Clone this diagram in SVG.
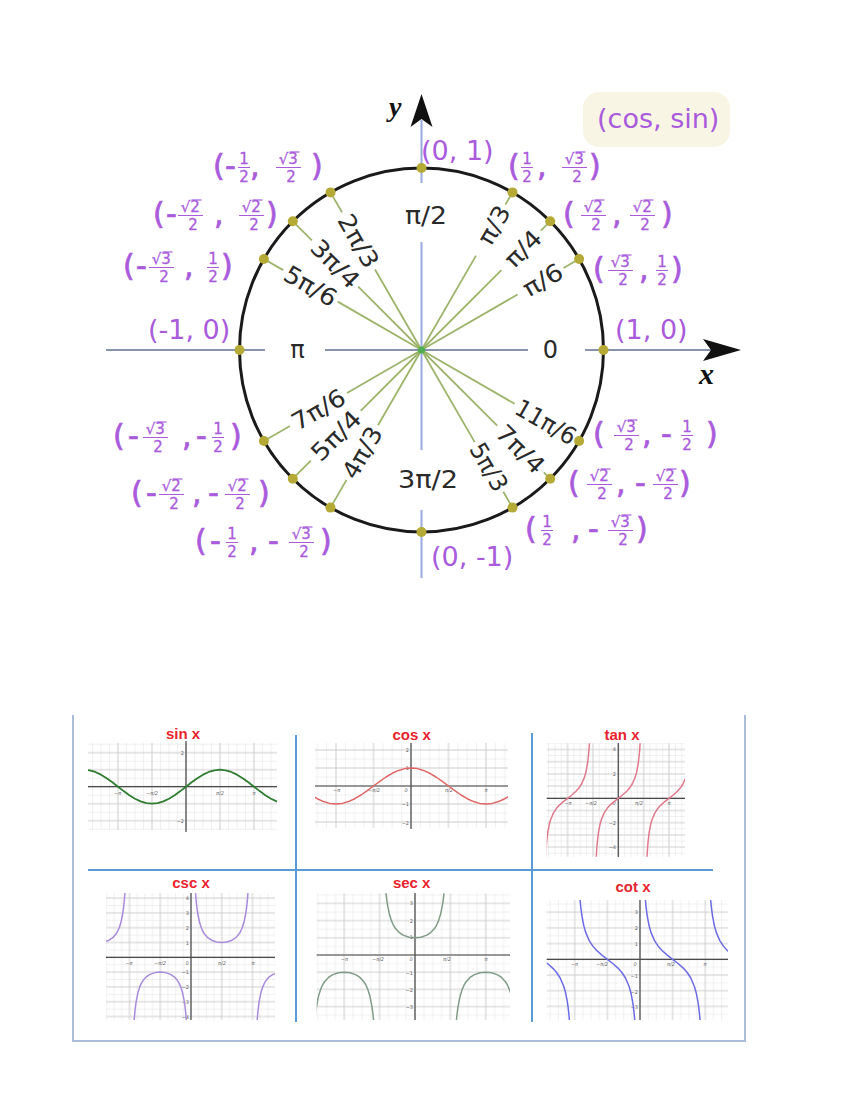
<svg xmlns="http://www.w3.org/2000/svg" width="850" height="1100" viewBox="0 0 850 1100">
<style>
text{font-family:"DejaVu Sans","Liberation Sans",sans-serif}
.axh{stroke:#8793a8;stroke-width:2;fill:none}
.axv{stroke:#97abdf;stroke-width:2;fill:none}
.ray{stroke:#9db46b;stroke-width:1.8;fill:none}
.dot{fill:#b5aa36}
.ang{font-size:24px;fill:#2a2a2a;text-anchor:middle}
.p{font-size:30px;fill:#a95bdc;stroke:#a95bdc;stroke-width:.7}
.co{font-size:27px;fill:#a95bdc}
.f{font-size:15px;fill:#a95bdc;text-anchor:middle;stroke:#a95bdc;stroke-width:.3}
.bar{stroke:#a95bdc;stroke-width:1}
.ov{stroke:#a95bdc;stroke-width:1.2}
.lab{font-family:"Liberation Serif",serif;font-style:italic;font-weight:bold;fill:#111}
.ttl{font-family:"Liberation Sans",sans-serif;font-weight:bold;font-size:15px;fill:#e8232d;text-anchor:middle}
.tk{font-size:5px;fill:#666;text-anchor:middle;font-style:italic}
.tky{font-size:5px;fill:#666;text-anchor:end}
.ga{stroke:#4a4a4a;stroke-width:1.2}
.frame{stroke:#a9bdd8;stroke-width:2;fill:none}
.dv{stroke:#5b9bd5;stroke-width:2}
.cv{fill:none;stroke-linejoin:round}
.mj{stroke:#cdcdcd;stroke-width:1;fill:none}
.mn{stroke:#e6e6e6;stroke-width:.6;fill:none}
</style>
<defs>
<path id="tanb" class="cv" vector-effect="non-scaling-stroke" d="M-86,-14.3L-84,-9.514L-82,-7.115L-80,-5.671L-78,-4.705L-76,-4.011L-74,-3.487L-72,-3.078L-70,-2.747L-65,-2.145L-60,-1.732L-50,-1.192L-40,-.8391L-30,-.5774L-15,-.2679L0,0L15,.2679L30,.5774L40,.8391L50,1.192L60,1.732L65,2.145L70,2.747L72,3.078L74,3.487L76,4.011L78,4.705L80,5.671L82,7.115L84,9.514L86,14.3"/>
<path id="ub" class="cv" vector-effect="non-scaling-stroke" d="M-86,14.34L-84,9.567L-82,7.185L-80,5.759L-78,4.81L-76,4.134L-74,3.628L-72,3.236L-70,2.924L-65,2.366L-60,2L-55,1.743L-50,1.556L-40,1.305L-30,1.155L-15,1.035L0,1L15,1.035L30,1.155L40,1.305L50,1.556L55,1.743L60,2L65,2.366L70,2.924L72,3.236L74,3.628L76,4.134L78,4.81L80,5.759L82,7.185L84,9.567L86,14.34"/>
<pattern id="gsin" patternUnits="userSpaceOnUse" x="186" y="786.7" width="34" height="17"><path class="mn" d="M8.5,0V17M17,0V17M25.5,0V17M0,8.5H34"/><path class="mj" d="M0,0V17M34,0V17M0,0H34M0,17H34"/></pattern>
<pattern id="gcos" patternUnits="userSpaceOnUse" x="411" y="786" width="37.5" height="18"><path class="mn" d="M9.375,0V18M18.75,0V18M28.125,0V18M0,9H37.5"/><path class="mj" d="M0,0V18M37.5,0V18M0,0H37.5M0,18H37.5"/></pattern>
<pattern id="gtan" patternUnits="userSpaceOnUse" x="618.3" y="798.3" width="25.35" height="12.2"><path class="mn" d="M6.34,0V12.2M12.68,0V12.2M19.01,0V12.2M0,6.1H25.35"/><path class="mj" d="M0,0V12.2M25.35,0V12.2M0,0H25.35M0,12.2H25.35"/></pattern>
<pattern id="gcsc" patternUnits="userSpaceOnUse" x="191" y="957.3" width="30.75" height="14.8"><path class="mn" d="M7.69,0V14.8M15.38,0V14.8M23.06,0V14.8M0,7.4H30.75"/><path class="mj" d="M0,0V14.8M30.75,0V14.8M0,0H30.75M0,14.8H30.75"/></pattern>
<pattern id="gsec" patternUnits="userSpaceOnUse" x="415" y="955" width="35.4" height="17.2"><path class="mn" d="M8.85,0V17.2M17.7,0V17.2M26.55,0V17.2M0,8.6H35.4"/><path class="mj" d="M0,0V17.2M35.4,0V17.2M0,0H35.4M0,17.2H35.4"/></pattern>
<pattern id="gcot" patternUnits="userSpaceOnUse" x="640" y="959.3" width="32.65" height="15.7"><path class="mn" d="M8.16,0V15.7M16.33,0V15.7M24.49,0V15.7M0,7.85H32.65"/><path class="mj" d="M0,0V15.7M32.65,0V15.7M0,0H32.65M0,15.7H32.65"/></pattern>
<clipPath id="csin"><rect x="88" y="743" width="189" height="87"/></clipPath>
<clipPath id="ccos"><rect x="315" y="743" width="193" height="85"/></clipPath>
<clipPath id="ctan"><rect x="546.7" y="743.3" width="138.3" height="113.4"/></clipPath>
<clipPath id="ccsc"><rect x="106" y="893" width="169" height="127"/></clipPath>
<clipPath id="csec"><rect x="316.7" y="893.3" width="193.3" height="126.7"/></clipPath>
<clipPath id="ccot"><rect x="546.7" y="900" width="181.3" height="120"/></clipPath>
</defs>
<rect width="850" height="1100" fill="#fff"/>

<g id="unit-circle">
<g id="cos-sin-key"><rect x="583" y="92" width="147" height="55" rx="16" fill="#f8f5e4"/><text class="co" x="597" y="128" font-size="26">(cos, sin)</text></g>
<g id="axes">
<path class="axh" d="M106,350H265M325,350H528M585,350H712"/>
<path class="axv" d="M421.5,120V183M421.5,242V450M421.5,510V578"/>
<path d="M421.5,94L432.5,127L421.5,119L410.5,127Z" fill="#111"/>
<path d="M741,350L703,339L711,350L703,361Z" fill="#111"/>
<text class="lab" x="389" y="116" font-size="28">y</text>
<text class="lab" x="699" y="384" font-size="30">x</text>
<text class="ang" x="426" y="224" textLength="42" lengthAdjust="spacingAndGlyphs">π/2</text>
<text class="ang" x="428" y="488" textLength="60" lengthAdjust="spacingAndGlyphs">3π/2</text>
<text class="ang" x="297.5" y="358">π</text>
<text class="ang" x="550.5" y="358">0</text>
</g>
<circle id="circle" cx="421.5" cy="350" r="182" fill="none" stroke="#1a1a1a" stroke-width="3"/>
<g id="connectors">
<path class="ray" d="M421.5,350L375,269.5M342,212.3L330.5,192.4"/>
<path class="ray" d="M421.5,350L358.2,286.7M311.9,240.4L292.8,221.3"/>
<path class="ray" d="M421.5,350L337.7,301.6M283.2,270.1L263.9,259"/>
<path class="ray" d="M421.5,350L476,255.6M505.5,204.5L512.5,192.4"/>
<path class="ray" d="M421.5,350L501.4,270.1M540.8,230.7L550.2,221.3"/>
<path class="ray" d="M421.5,350L517.6,294.5M563.5,268L579.1,259"/>
<path class="ray" d="M421.5,350L347,393M289.9,426L263.9,441"/>
<path class="ray" d="M421.5,350L360.7,410.8M310.8,460.7L292.8,478.7"/>
<path class="ray" d="M421.5,350L378,425.3M346.5,479.9L330.5,507.6"/>
<path class="ray" d="M421.5,350L514.6,403.8"/>
<path class="ray" d="M421.5,350L497.2,425.7M543.8,472.3L550.2,478.7"/>
<path class="ray" d="M421.5,350L474.7,442.1M503.3,491.7L512.5,507.6"/>
</g>
<circle cx="421.5" cy="350" r="3.5" fill="#4fae4f"/>
<g id="points">
<circle class="dot" cx="603.5" cy="350" r="5"/><circle class="dot" cx="579.1" cy="259" r="5"/><circle class="dot" cx="550.2" cy="221.3" r="5"/><circle class="dot" cx="512.5" cy="192.4" r="5"/>
<circle class="dot" cx="421.5" cy="168" r="5"/><circle class="dot" cx="330.5" cy="192.4" r="5"/><circle class="dot" cx="292.8" cy="221.3" r="5"/><circle class="dot" cx="263.9" cy="259" r="5"/>
<circle class="dot" cx="239.5" cy="350" r="5"/><circle class="dot" cx="263.9" cy="441" r="5"/><circle class="dot" cx="292.8" cy="478.7" r="5"/><circle class="dot" cx="330.5" cy="507.6" r="5"/>
<circle class="dot" cx="421.5" cy="532" r="5"/><circle class="dot" cx="512.5" cy="507.6" r="5"/><circle class="dot" cx="550.2" cy="478.7" r="5"/><circle class="dot" cx="579.1" cy="441" r="5"/>
</g>
<g id="angle-labels">
<text class="ang" transform="translate(358.5,240.9) rotate(60)" y="8.5" textLength="58" lengthAdjust="spacingAndGlyphs">2π/3</text>
<text class="ang" transform="translate(335.2,263.7) rotate(45)" y="8.5" textLength="58" lengthAdjust="spacingAndGlyphs">3π/4</text>
<text class="ang" transform="translate(310.6,286) rotate(30)" y="8.5" textLength="57" lengthAdjust="spacingAndGlyphs">5π/6</text>
<text class="ang" transform="translate(493.8,224.9) rotate(-60)" y="8.5" textLength="41" lengthAdjust="spacingAndGlyphs">π/3</text>
<text class="ang" transform="translate(523,248.5) rotate(-45)" y="8.5" textLength="42" lengthAdjust="spacingAndGlyphs">π/4</text>
<text class="ang" transform="translate(542.7,280) rotate(-30)" y="8.5" textLength="42" lengthAdjust="spacingAndGlyphs">π/6</text>
<text class="ang" transform="translate(318.4,409.5) rotate(-30)" y="8.5" textLength="58" lengthAdjust="spacingAndGlyphs">7π/6</text>
<text class="ang" transform="translate(335.9,435.6) rotate(-45)" y="8.5" textLength="60" lengthAdjust="spacingAndGlyphs">5π/4</text>
<text class="ang" transform="translate(362.2,452.6) rotate(-60)" y="8.5" textLength="56" lengthAdjust="spacingAndGlyphs">4π/3</text>
<text class="ang" transform="translate(545.9,421.9) rotate(30)" y="8.5" textLength="66" lengthAdjust="spacingAndGlyphs">11π/6</text>
<text class="ang" transform="translate(520.5,449) rotate(45)" y="8.5" textLength="58" lengthAdjust="spacingAndGlyphs">7π/4</text>
<text class="ang" transform="translate(489,466.9) rotate(60)" y="8.5" textLength="52" lengthAdjust="spacingAndGlyphs">5π/3</text>
</g>

<g id="pt90"><text class="co" x="421" y="160">(0, 1)</text></g>
<g id="pt0"><text class="co" x="615" y="339">(1, 0)</text></g>
<g id="pt180"><text class="co" x="148" y="339">(-1, 0)</text></g>
<g id="pt270"><text class="co" x="431" y="566">(0, -1)</text></g>

<g id="pt120">
<text class="p" x="213" y="176">(</text><text class="p" x="225" y="176">-</text>
<text class="f"><tspan x="244" y="164">1</tspan><tspan x="244" y="182">2</tspan></text><line class="bar" x1="238" x2="250" y1="167.5" y2="167.5"/>
<text class="p" x="250" y="176">,</text>
<text class="f"><tspan x="288.3" y="164">√3</tspan><tspan x="291" y="182">2</tspan></text><line class="ov" x1="289.5" x2="299.5" y1="152" y2="152"/><line class="bar" x1="276" x2="301" y1="167.5" y2="167.5"/>
<text class="p" x="311" y="176">)</text>
</g>
<g id="pt135">
<text class="p" x="153" y="224">(</text><text class="p" x="166" y="224">-</text>
<text class="f"><tspan x="190.3" y="212">√2</tspan><tspan x="193" y="230">2</tspan></text><line class="ov" x1="191.5" x2="201.5" y1="200" y2="200"/><line class="bar" x1="178" x2="203" y1="215.5" y2="215.5"/>
<text class="p" x="214" y="224">,</text>
<text class="f"><tspan x="251.3" y="212">√2</tspan><tspan x="254" y="230">2</tspan></text><line class="ov" x1="252.5" x2="262.5" y1="200" y2="200"/><line class="bar" x1="239" x2="264" y1="215.5" y2="215.5"/>
<text class="p" x="266" y="224">)</text>
</g>
<g id="pt150">
<text class="p" x="123" y="276">(</text><text class="p" x="136" y="276">-</text>
<text class="f"><tspan x="161.3" y="264">√3</tspan><tspan x="164" y="282">2</tspan></text><line class="ov" x1="162.5" x2="172.5" y1="252" y2="252"/><line class="bar" x1="149" x2="174" y1="267.5" y2="267.5"/>
<text class="p" x="184" y="276">,</text>
<text class="f"><tspan x="213" y="264">1</tspan><tspan x="213" y="282">2</tspan></text><line class="bar" x1="207" x2="219" y1="267.5" y2="267.5"/>
<text class="p" x="221" y="276">)</text>
</g>
<g id="pt60">
<text class="p" x="508" y="176">(</text>
<text class="f"><tspan x="527" y="164">1</tspan><tspan x="527" y="182">2</tspan></text><line class="bar" x1="521" x2="533" y1="167.5" y2="167.5"/>
<text class="p" x="537" y="176">,</text>
<text class="f"><tspan x="574.3" y="164">√3</tspan><tspan x="577" y="182">2</tspan></text><line class="ov" x1="575.5" x2="585.5" y1="152" y2="152"/><line class="bar" x1="562" x2="587" y1="167.5" y2="167.5"/>
<text class="p" x="589" y="176">)</text>
</g>
<g id="pt45">
<text class="p" x="563" y="224">(</text>
<text class="f"><tspan x="593.3" y="212">√2</tspan><tspan x="596" y="230">2</tspan></text><line class="ov" x1="594.5" x2="604.5" y1="200" y2="200"/><line class="bar" x1="581" x2="606" y1="215.5" y2="215.5"/>
<text class="p" x="612" y="224">,</text>
<text class="f"><tspan x="642.3" y="212">√2</tspan><tspan x="645" y="230">2</tspan></text><line class="ov" x1="643.5" x2="653.5" y1="200" y2="200"/><line class="bar" x1="630" x2="655" y1="215.5" y2="215.5"/>
<text class="p" x="661" y="224">)</text>
</g>
<g id="pt30">
<text class="p" x="593" y="279">(</text>
<text class="f"><tspan x="620.3" y="267">√3</tspan><tspan x="623" y="285">2</tspan></text><line class="ov" x1="621.5" x2="631.5" y1="255" y2="255"/><line class="bar" x1="608" x2="633" y1="270.5" y2="270.5"/>
<text class="p" x="639" y="279">,</text>
<text class="f"><tspan x="662" y="267">1</tspan><tspan x="662" y="285">2</tspan></text><line class="bar" x1="656" x2="668" y1="270.5" y2="270.5"/>
<text class="p" x="671" y="279">)</text>
</g>
<g id="pt210">
<text class="p" x="113" y="446">(</text><text class="p" x="128" y="446">-</text>
<text class="f"><tspan x="155.3" y="434">√3</tspan><tspan x="158" y="452">2</tspan></text><line class="ov" x1="156.5" x2="166.5" y1="422" y2="422"/><line class="bar" x1="143" x2="168" y1="437.5" y2="437.5"/>
<text class="p" x="182" y="446">,</text><text class="p" x="196" y="446">-</text>
<text class="f"><tspan x="218" y="434">1</tspan><tspan x="218" y="452">2</tspan></text><line class="bar" x1="212" x2="224" y1="437.5" y2="437.5"/>
<text class="p" x="230" y="446">)</text>
</g>
<g id="pt225">
<text class="p" x="131" y="503">(</text><text class="p" x="146" y="503">-</text>
<text class="f"><tspan x="171.3" y="491">√2</tspan><tspan x="174" y="509">2</tspan></text><line class="ov" x1="172.5" x2="182.5" y1="479" y2="479"/><line class="bar" x1="159" x2="184" y1="494.5" y2="494.5"/>
<text class="p" x="192" y="503">,</text><text class="p" x="208" y="503">-</text>
<text class="f"><tspan x="237.3" y="491">√2</tspan><tspan x="240" y="509">2</tspan></text><line class="ov" x1="238.5" x2="248.5" y1="479" y2="479"/><line class="bar" x1="225" x2="250" y1="494.5" y2="494.5"/>
<text class="p" x="258" y="503">)</text>
</g>
<g id="pt240">
<text class="p" x="195" y="551">(</text><text class="p" x="210" y="551">-</text>
<text class="f"><tspan x="232" y="539">1</tspan><tspan x="232" y="557">2</tspan></text><line class="bar" x1="226" x2="238" y1="542.5" y2="542.5"/>
<text class="p" x="249" y="551">,</text><text class="p" x="268" y="551">-</text>
<text class="f"><tspan x="301.3" y="539">√3</tspan><tspan x="304" y="557">2</tspan></text><line class="ov" x1="302.5" x2="312.5" y1="527" y2="527"/><line class="bar" x1="289" x2="314" y1="542.5" y2="542.5"/>
<text class="p" x="320" y="551">)</text>
</g>
<g id="pt330">
<text class="p" x="593" y="444">(</text>
<text class="f"><tspan x="626.3" y="432">√3</tspan><tspan x="629" y="450">2</tspan></text><line class="ov" x1="627.5" x2="637.5" y1="420" y2="420"/><line class="bar" x1="614" x2="639" y1="435.5" y2="435.5"/>
<text class="p" x="642" y="444">,</text><text class="p" x="661" y="444">-</text>
<text class="f"><tspan x="687" y="432">1</tspan><tspan x="687" y="450">2</tspan></text><line class="bar" x1="681" x2="693" y1="435.5" y2="435.5"/>
<text class="p" x="706" y="444">)</text>
</g>
<g id="pt315">
<text class="p" x="568" y="493">(</text>
<text class="f"><tspan x="599.3" y="481">√2</tspan><tspan x="602" y="499">2</tspan></text><line class="ov" x1="600.5" x2="610.5" y1="469" y2="469"/><line class="bar" x1="587" x2="612" y1="484.5" y2="484.5"/>
<text class="p" x="616" y="493">,</text><text class="p" x="635" y="493">-</text>
<text class="f"><tspan x="665.3" y="481">√2</tspan><tspan x="668" y="499">2</tspan></text><line class="ov" x1="666.5" x2="676.5" y1="469" y2="469"/><line class="bar" x1="653" x2="678" y1="484.5" y2="484.5"/>
<text class="p" x="679" y="493">)</text>
</g>
<g id="pt300">
<text class="p" x="525" y="539">(</text>
<text class="f"><tspan x="547" y="527">1</tspan><tspan x="547" y="545">2</tspan></text><line class="bar" x1="541" x2="553" y1="530.5" y2="530.5"/>
<text class="p" x="571" y="539">,</text><text class="p" x="588" y="539">-</text>
<text class="f"><tspan x="620.3" y="527">√3</tspan><tspan x="623" y="545">2</tspan></text><line class="ov" x1="621.5" x2="631.5" y1="515" y2="515"/><line class="bar" x1="608" x2="633" y1="530.5" y2="530.5"/>
<text class="p" x="636" y="539">)</text>
</g>
</g>

<g id="graphs">
<g id="frame">
<path class="frame" d="M73,715V1041H745V715"/>
<path class="dv" d="M296,735V1022M532,733V1022M88,870H713"/>
</g>

<g id="panel-sin">
<text class="ttl" x="183" y="739">sin x</text>
<rect x="88" y="743" width="189" height="87" fill="url(#gsin)"/>
<path class="ga" d="M88,786.7H277M186,741V832"/>
<text class="tk" x="117.7" y="795">−π</text><text class="tk" x="152" y="795">−π/2</text><text class="tk" x="220" y="795">π/2</text><text class="tk" x="254" y="795">π</text>
<text class="tky" x="184" y="755">2</text><text class="tky" x="184" y="823">−2</text>
<g clip-path="url(#csin)"><path class="cv" stroke="#2e7d32" stroke-width="1.8" vector-effect="non-scaling-stroke" transform="translate(186,786.7) scale(0.3778,-17)" d="M-270,1L-255,.9659L-240,.866L-225,.7071L-210,.5L-195,.2588L-180,0L-165,-.2588L-150,-.5L-135,-.7071L-120,-.866L-105,-.9659L-90,-1L-75,-.9659L-60,-.866L-45,-.7071L-30,-.5L-15,-.2588L0,0L15,.2588L30,.5L45,.7071L60,.866L75,.9659L90,1L105,.9659L120,.866L135,.7071L150,.5L165,.2588L180,0L195,-.2588L210,-.5L225,-.7071L240,-.866L255,-.9659L270,-1"/></g>
</g>

<g id="panel-cos">
<text class="ttl" x="411.7" y="740">cos x</text>
<rect x="315" y="743" width="193" height="85" fill="url(#gcos)"/>
<path class="ga" d="M315,786H508M411,743V829"/>
<text class="tk" x="336.7" y="792">−π</text><text class="tk" x="374" y="792">−π/2</text><text class="tk" x="406" y="792">0</text><text class="tk" x="449" y="792">π/2</text><text class="tk" x="486" y="792">π</text>
<text class="tky" x="409" y="751.5">2</text><text class="tky" x="409" y="769.5">1</text><text class="tky" x="409" y="806">−1</text><text class="tky" x="409" y="824.5">−2</text>
<g clip-path="url(#ccos)"><path class="cv" stroke="#e06666" stroke-width="1.5" vector-effect="non-scaling-stroke" transform="translate(411,786) scale(0.4167,-18)" d="M-240,-.5L-225,-.7071L-210,-.866L-195,-.9659L-180,-1L-165,-.9659L-150,-.866L-135,-.7071L-120,-.5L-105,-.2588L-90,0L-75,.2588L-60,.5L-45,.7071L-30,.866L-15,.9659L0,1L15,.9659L30,.866L45,.7071L60,.5L75,.2588L90,0L105,-.2588L120,-.5L135,-.7071L150,-.866L165,-.9659L180,-1L195,-.9659L210,-.866L225,-.7071L240,-.5"/></g>
</g>

<g id="panel-tan">
<text class="ttl" x="622" y="740">tan x</text>
<rect x="546.7" y="743.3" width="138.3" height="113.4" fill="url(#gtan)"/>
<path class="ga" d="M546.7,798.3H685M618.3,743V857"/>
<text class="tk" x="568" y="805">−π</text><text class="tk" x="591" y="805">−π/2</text><text class="tk" x="614" y="805">0</text><text class="tk" x="639" y="805">π/2</text><text class="tk" x="669" y="805">π</text>
<text class="tky" x="616" y="751">4</text><text class="tky" x="616" y="775.5">2</text><text class="tky" x="616" y="824.5">−2</text><text class="tky" x="616" y="849">−4</text>
<g clip-path="url(#ctan)"><g transform="translate(618.3,798.3) scale(0.2817,-12.2)" stroke="#e07a8c" stroke-width="1.5"><use href="#tanb" x="-180"/><use href="#tanb"/><use href="#tanb" x="180"/></g></g>
</g>

<g id="panel-csc">
<text class="ttl" x="191" y="887.5">csc x</text>
<rect x="106" y="893" width="169" height="127" fill="url(#gcsc)"/>
<path class="ga" d="M106,957.3H275M191,893V1020"/>
<text class="tk" x="129" y="964.5">−π</text><text class="tk" x="160" y="964.5">−π/2</text><text class="tk" x="187" y="964.5">0</text><text class="tk" x="222" y="964.5">π/2</text><text class="tk" x="253" y="964.5">π</text>
<text class="tky" x="189" y="900">4</text><text class="tky" x="189" y="914.5">3</text><text class="tky" x="189" y="929.5">2</text><text class="tky" x="189" y="944.5">1</text><text class="tky" x="189" y="974">−1</text><text class="tky" x="189" y="989">−2</text><text class="tky" x="189" y="1004">−3</text><text class="tky" x="189" y="1018.5">−4</text>
<g clip-path="url(#ccsc)"><g transform="translate(191,957.3) scale(0.3417,-14.8)" stroke="#a98bdc" stroke-width="1.5"><use href="#ub" x="90"/><use href="#ub" x="-270"/><use href="#ub" transform="translate(-90,0) scale(1,-1)"/><use href="#ub" transform="translate(270,0) scale(1,-1)"/></g></g>
</g>

<g id="panel-sec">
<text class="ttl" x="411.7" y="888">sec x</text>
<rect x="316.7" y="893.3" width="193.3" height="126.7" fill="url(#gsec)"/>
<path class="ga" d="M316.7,955H510M415,893V1020"/>
<text class="tk" x="344.3" y="961">−π</text><text class="tk" x="378" y="961">−π/2</text><text class="tk" x="411" y="961">0</text><text class="tk" x="447" y="961">π/2</text><text class="tk" x="486" y="961">π</text>
<text class="tky" x="413" y="905">3</text><text class="tky" x="413" y="922.5">2</text><text class="tky" x="413" y="939">1</text><text class="tky" x="413" y="974.5">−1</text><text class="tky" x="413" y="992">−2</text><text class="tky" x="413" y="1009">−3</text>
<g clip-path="url(#csec)"><g transform="translate(415,955) scale(0.3933,-17.2)" stroke="#7f9c86" stroke-width="1.5"><use href="#ub"/><use href="#ub" transform="translate(-180,0) scale(1,-1)"/><use href="#ub" transform="translate(180,0) scale(1,-1)"/></g></g>
</g>

<g id="panel-cot">
<text class="ttl" x="633" y="891.5">cot x</text>
<rect x="546.7" y="900" width="181.3" height="120" fill="url(#gcot)"/>
<path class="ga" d="M546.7,959.3H728M640,900V1020"/>
<text class="tk" x="574.3" y="966">−π</text><text class="tk" x="602" y="966">−π/2</text><text class="tk" x="635" y="966">0</text><text class="tk" x="671" y="966">π/2</text><text class="tk" x="705" y="966">π</text>
<text class="tky" x="638" y="913.5">3</text><text class="tky" x="638" y="930">2</text><text class="tky" x="638" y="946">1</text><text class="tky" x="638" y="977.5">−1</text><text class="tky" x="638" y="993.5">−2</text><text class="tky" x="638" y="1009">−3</text>
<g clip-path="url(#ccot)"><g transform="translate(640,959.3) scale(0.3628,-15.7)" stroke="#6b6be6" stroke-width="1.5"><use href="#tanb" transform="translate(-270,0) scale(-1,1)"/><use href="#tanb" transform="translate(-90,0) scale(-1,1)"/><use href="#tanb" transform="translate(90,0) scale(-1,1)"/><use href="#tanb" transform="translate(270,0) scale(-1,1)"/></g></g>
</g>
</g>
</svg>
